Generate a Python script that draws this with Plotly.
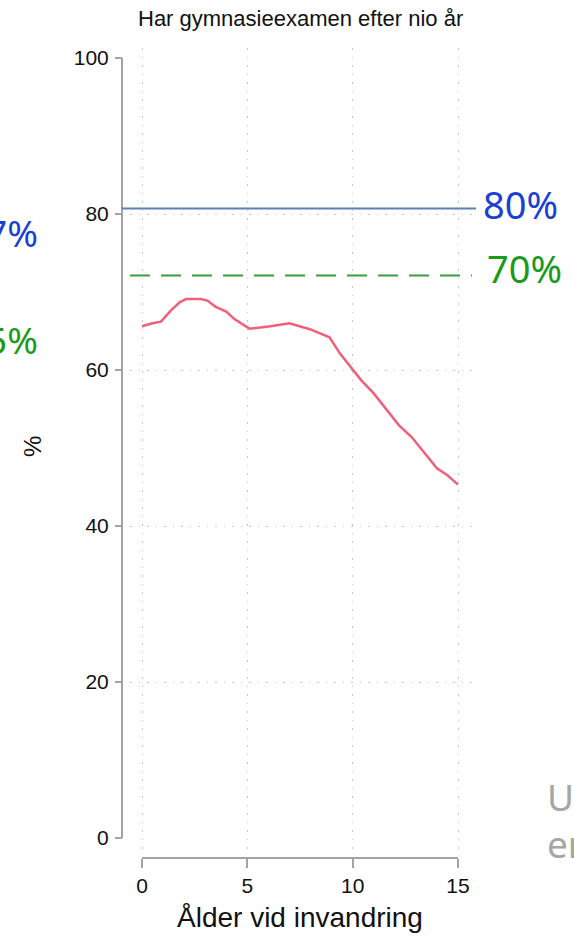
import plotly.graph_objects as go

# red curve: share with upper secondary exam after nine years, by age at immigration
age = [0, 0.5, 0.9, 1.4, 1.8, 2.1, 2.8, 3.1, 3.5, 4.0, 4.4, 4.9, 5.1, 6.1, 7.0,
       8.0, 8.9, 9.4, 10.0, 10.4, 11.0, 11.6, 12.2, 12.8, 13.4, 14.0, 14.5, 15.0]
share = [65.6, 66.0, 66.2, 67.7, 68.7, 69.1, 69.1, 68.9, 68.1, 67.5, 66.5, 65.6, 65.3, 65.6, 66.0,
         65.2, 64.2, 62.1, 60.0, 58.7, 57.0, 54.9, 52.9, 51.4, 49.4, 47.4, 46.5, 45.3]

# reference levels
blue_level = 80.7
green_level = 72.1
blue_label = "80%"
green_label = "70%"
left_labels = ["7%", "5%"]      # cut off at the left edge
right_labels = ["Ut", "er"]     # cut off at the right edge

x_ticks = [0, 5, 10, 15]
y_ticks = [0, 20, 40, 60, 80, 100]
y_grid = [20, 40, 60, 80]

title = "Har gymnasieexamen efter nio år"
x_title = "Ålder vid invandring"
y_title = "%"

W, H = 574, 937
ML, MR, MT, MB = 122, 98, 48, 79
PW, PH = W - ML - MR, H - MT - MB


def px_x(p):
    return (p - ML) / PW


def px_y(p):
    return (H - MB - p) / PH


BLUE_TXT = "#1a3fd4"
GREEN_TXT = "#1b9a1b"
AX = "#a3a3a3"
GRID = "#c4c4c4"
SANS = "Liberation Sans, Arial, sans-serif"
BIG = "Noto Sans, Open Sans, sans-serif"

fig = go.Figure()
fig.add_trace(go.Scatter(x=age, y=share, mode="lines",
                         line=dict(color="#f0607a", width=2.5), showlegend=False))

fig.add_shape(type="line", xref="paper", yref="y", x0=0, x1=1,
              y0=blue_level, y1=blue_level, line=dict(color="#5b80b6", width=2))
fig.add_shape(type="line", xref="paper", yref="y", x0=px_x(130), x1=px_x(472),
              y0=green_level, y1=green_level,
              line=dict(color="#3c9c3c", width=2, dash="20px,11px"))

# stata-style axis lines spanning only the tick range
fig.add_shape(type="line", xref="paper", yref="y", x0=0, x1=0, y0=y_ticks[0], y1=y_ticks[-1],
              line=dict(color=AX, width=2), layer="below")
fig.add_shape(type="line", xref="x", yref="paper", x0=x_ticks[0], x1=x_ticks[-1], y0=0, y1=0,
              line=dict(color=AX, width=2), layer="below")

ann = [
    dict(text=title, x=px_x(300), y=px_y(19), font=dict(family=SANS, size=22, color="#111")),
    dict(text=x_title, x=px_x(300), y=px_y(918), font=dict(family=SANS, size=28, color="#111")),
    dict(text=y_title, x=px_x(32), y=px_y(447), textangle=-90,
         font=dict(family=SANS, size=24, color="#111")),
    dict(text=blue_label, x=px_x(481), y=px_y(204), xanchor="left",
         font=dict(family=BIG, size=38, color=BLUE_TXT)),
    dict(text=green_label, x=px_x(485), y=px_y(268), xanchor="left",
         font=dict(family=BIG, size=38, color=GREEN_TXT)),
    dict(text=left_labels[0], x=px_x(40), y=px_y(232), xanchor="right",
         font=dict(family=BIG, size=37, color=BLUE_TXT)),
    dict(text=left_labels[1], x=px_x(40), y=px_y(339), xanchor="right",
         font=dict(family=BIG, size=37, color=GREEN_TXT)),
    dict(text=right_labels[0], x=px_x(545), y=px_y(796), xanchor="left",
         font=dict(family=BIG, size=37, color="#a6a6a6")),
    dict(text=right_labels[1], x=px_x(545), y=px_y(843), xanchor="left",
         font=dict(family=BIG, size=37, color="#a6a6a6")),
]
for a in ann:
    a.setdefault("xanchor", "center")
    fig.add_annotation(xref="paper", yref="paper", yanchor="middle", showarrow=False, **a)

# pixel -> data ranges (0 at x=142, 15 at x=458; 0 at y=838, 100 at y=58)
xs = (458 - 142) / 15
ys = (838 - 58) / 100
x_dom0 = px_x(130)
y_dom0 = px_y(849)
fig.update_layout(
    width=W, height=H, margin=dict(l=ML, r=MR, t=MT, b=MB),
    plot_bgcolor="white", paper_bgcolor="white",
    xaxis=dict(domain=[x_dom0, 1], range=[(130 - 142) / xs, (476 - 142) / xs],
               anchor="free", position=0, showline=False, zeroline=False,
               tickvals=x_ticks, ticks="outside", ticklen=9, tickwidth=2, tickcolor=AX,
               tickfont=dict(family=SANS, size=21, color="#111"),
               showgrid=True, gridcolor=GRID, gridwidth=1.2, griddash="1.5px,7px"),
    yaxis=dict(domain=[y_dom0, 1], range=[(838 - 849) / ys, (838 - 48) / ys],
               anchor="free", position=0, showline=False, zeroline=False,
               tickvals=y_ticks, ticks="outside", ticklen=7, tickwidth=2, tickcolor=AX,
               tickfont=dict(family=SANS, size=21, color="#111"), ticklabelstandoff=2,
               showgrid=False,
               minor=dict(tickvals=y_grid, ticks="", showgrid=True, gridcolor=GRID,
                          gridwidth=1.2, griddash="1.5px,7px")),
)

# page body has an 8px default margin; drop it so the figure fills the window
fig.write_html("out.html", config={"displayModeBar": False},
               post_script="document.body.style.margin='0';")
